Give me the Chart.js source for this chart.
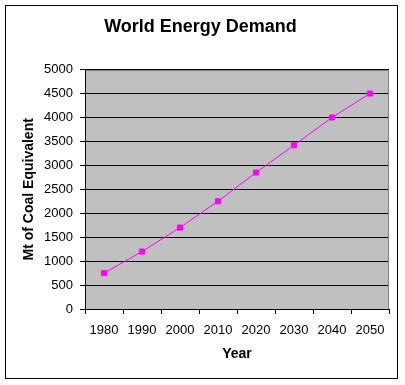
<!DOCTYPE html>
<html>
<head>
<meta charset="utf-8">
<script src="https://cdn.jsdelivr.net/npm/chart.js@4"></script>
<style>
  html, body { margin: 0; padding: 0; background: #fff; }
  #wrap { width: 405px; height: 385px; position: relative; }
</style>
</head>
<body>
<div id="wrap"><canvas id="myChart"></canvas></div>
<script>
// chart data
const years = ['1980', '1990', '2000', '2010', '2020', '2030', '2040', '2050'];
const demand = [750, 1200, 1700, 2250, 2850, 3420, 4000, 4500];
const yMin = 0, yMax = 5000, yStep = 500;

// grey plot area + outer frame, like the old spreadsheet chart
const frame = {
    id: 'frame',
    beforeDraw(chart) {
        const ctx = chart.ctx;
        const a = chart.chartArea;
        ctx.save();
        ctx.fillStyle = '#fff';
        ctx.fillRect(0, 0, chart.width, chart.height);
        ctx.fillStyle = '#c0c0c0';
        ctx.fillRect(a.left, a.top, a.right - a.left, a.bottom - a.top);
        ctx.strokeStyle = '#000';
        ctx.lineWidth = 1;
        ctx.strokeRect(5.5, 5.5, 392, 373);
        ctx.restore();
    },
    afterDraw(chart) {
        const ctx = chart.ctx;
        const a = chart.chartArea;
        ctx.save();
        ctx.strokeStyle = '#808080';
        ctx.lineWidth = 1;
        ctx.beginPath();
        ctx.moveTo(a.left + 1, Math.round(a.top) + 0.5);
        ctx.lineTo(Math.round(a.right) - 0.5, Math.round(a.top) + 0.5);
        ctx.lineTo(Math.round(a.right) - 0.5, a.bottom);
        ctx.stroke();
        ctx.restore();
    }
};

const ctx = document.querySelector('#myChart').getContext('2d');
new Chart(ctx, {
    type: 'line',
    data: {
        labels: years,
        datasets: [{
            label: 'Demand',
            data: demand,
            borderColor: '#ff00ff',
            backgroundColor: '#ff00ff',
            borderWidth: 1,
            fill: false,
            tension: 0,
            pointStyle: 'rect',
            pointRadius: 3.6,
            pointBorderWidth: 1,
            pointBorderColor: '#ff00ff',
            pointBackgroundColor: '#ff00ff'
        }]
    },
    options: {
        responsive: true,
        maintainAspectRatio: false,
        animation: false,
        layout: { padding: { left: 12, right: 16, top: 0, bottom: 0 } },
        plugins: {
            legend: { display: false },
            tooltip: { enabled: false },
            title: {
                display: true,
                text: 'World Energy Demand',
                color: '#000',
                font: { family: 'Liberation Sans, Arial', size: 18, weight: 'bold' },
                padding: { top: 16, bottom: 32 }
            }
        },
        scales: {
            x: {
                type: 'category',
                offset: true,
                afterFit(scale) { scale.height = 76; },
                grid: {
                    offset: true,
                    drawOnChartArea: false,
                    color: '#000',
                    tickLength: 5
                },
                border: { color: '#000', width: 1 },
                ticks: {
                    color: '#000',
                    padding: 9,
                    maxRotation: 0,
                    font: { family: 'Liberation Sans, Arial', size: 13 }
                },
                title: {
                    display: true,
                    text: 'Year',
                    color: '#000',
                    font: { family: 'Liberation Sans, Arial', size: 14, weight: 'bold' },
                    padding: { top: 0, bottom: 22 }
                }
            },
            y: {
                min: yMin,
                max: yMax,
                afterFit(scale) { scale.width = 73; },
                grid: {
                    color: '#000',
                    tickLength: 5
                },
                border: { color: '#000', width: 1 },
                ticks: {
                    stepSize: yStep,
                    color: '#000',
                    padding: 7,
                    font: { family: 'Liberation Sans, Arial', size: 13 },
                    callback: (v) => String(v)
                },
                title: {
                    display: true,
                    text: 'Mt of Coal Equivalent',
                    color: '#000',
                    font: { family: 'Liberation Sans, Arial', size: 14, weight: 'bold' },
                    padding: { top: 9, bottom: 0 }
                }
            }
        }
    },
    plugins: [frame]
});
</script>
</body>
</html>
